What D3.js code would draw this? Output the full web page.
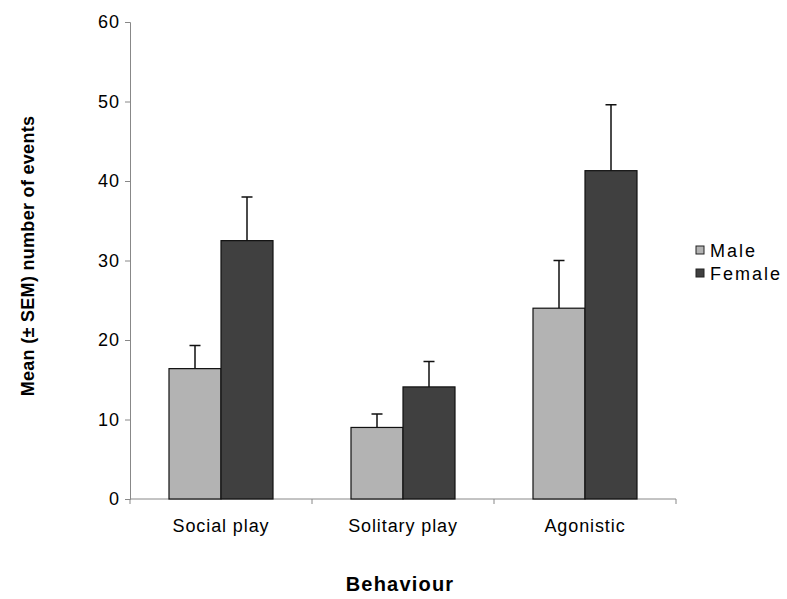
<!DOCTYPE html>
<html>
<head>
<meta charset="utf-8">
<script src="https://cdn.jsdelivr.net/npm/d3@7"></script>
<style>
  body { margin: 0; background: #fff; }
  text { font-family: Arial, "Liberation Sans", sans-serif; fill: #000; }
</style>
</head>
<body>
<div id="chart"></div>
<script>
// data
var categories = ['Social play', 'Solitary play', 'Agonistic'];
var series = ['Male', 'Female'];
var maleMeans = [16.4, 9.0, 24.0];
var maleSem = [2.9, 1.7, 6.0];
var femaleMeans = [32.5, 14.1, 41.3];
var femaleSem = [5.5, 3.2, 8.3];
var yTicks = [0, 10, 20, 30, 40, 50, 60];

var colours = { Male: '#b3b3b3', Female: '#404040' };

var width = 787, height = 599;
var plotLeft = 130, plotRight = 676, plotTop = 22, plotBottom = 499;

var svg = d3.select('#chart').append('svg')
  .attr('width', width)
  .attr('height', height);

var x = d3.scaleBand()
  .domain(categories)
  .range([plotLeft, plotRight]);

var xInner = d3.scaleBand()
  .domain(series)
  .range([0, x.bandwidth()])
  .paddingInner(0)
  .paddingOuter(0.75);

var y = d3.scaleLinear()
  .domain([0, 60])
  .range([plotBottom, plotTop]);

// y axis
var yAxis = svg.append('g')
  .attr('transform', 'translate(' + plotLeft + ',0)')
  .call(d3.axisLeft(y).tickValues(yTicks).tickSize(5).tickPadding(5));
yAxis.selectAll('.domain, line').attr('stroke', '#888');
yAxis.selectAll('text')
  .attr('font-size', '18px')
  .style('letter-spacing', '1px');

// x axis, ticks sit between categories
var xAxis = svg.append('g')
  .attr('transform', 'translate(0,' + plotBottom + ')');
xAxis.append('line')
  .attr('x1', plotLeft).attr('x2', plotRight)
  .attr('stroke', '#888');
var bounds = categories.map(function (c) { return x(c); }).concat([plotRight]);
xAxis.selectAll('.xtick')
  .data(bounds)
  .enter().append('line')
  .attr('class', 'xtick')
  .attr('x1', function (d) { return d; })
  .attr('x2', function (d) { return d; })
  .attr('y1', 0).attr('y2', 5)
  .attr('stroke', '#888');
xAxis.selectAll('.xlabel')
  .data(categories)
  .enter().append('text')
  .attr('class', 'xlabel')
  .attr('x', function (d) { return x(d) + x.bandwidth() / 2; })
  .attr('y', 33)
  .attr('text-anchor', 'middle')
  .attr('font-size', '18px')
  .style('letter-spacing', '0.9px')
  .text(function (d) { return d; });

// bars
var rows = [];
categories.forEach(function (c, i) {
  rows.push({ cat: c, s: 'Male', v: maleMeans[i], e: maleSem[i] });
  rows.push({ cat: c, s: 'Female', v: femaleMeans[i], e: femaleSem[i] });
});

var g = svg.append('g');

g.selectAll('.err')
  .data(rows)
  .enter().append('path')
  .attr('class', 'err')
  .attr('fill', 'none')
  .attr('stroke', '#111')
  .attr('stroke-width', 1.5)
  .attr('d', function (d) {
    var cx = x(d.cat) + xInner(d.s) + xInner.bandwidth() / 2;
    var t = y(d.v + d.e);
    return 'M' + cx + ',' + y(d.v) + 'V' + t + 'M' + (cx - 5.5) + ',' + t + 'H' + (cx + 5.5);
  });

g.selectAll('.bar')
  .data(rows)
  .enter().append('rect')
  .attr('class', 'bar')
  .attr('x', function (d) { return x(d.cat) + xInner(d.s); })
  .attr('width', xInner.bandwidth())
  .attr('y', function (d) { return y(d.v); })
  .attr('height', function (d) { return plotBottom - y(d.v); })
  .attr('fill', function (d) { return colours[d.s]; })
  .attr('stroke', '#111')
  .attr('stroke-width', 1.2);

// legend
var legend = svg.append('g')
  .attr('transform', 'translate(696,250)');
var item = legend.selectAll('.item')
  .data(series)
  .enter().append('g')
  .attr('class', 'item')
  .attr('transform', function (d, i) { return 'translate(0,' + i * 23 + ')'; });
item.append('rect')
  .attr('x', 0).attr('y', -4)
  .attr('width', 8).attr('height', 8)
  .attr('fill', function (d) { return colours[d]; })
  .attr('stroke', '#222');
item.append('text')
  .attr('x', 14)
  .attr('y', 6.5)
  .attr('font-size', '18px')
  .style('letter-spacing', '2px')
  .text(function (d) { return d; });

// axis titles
svg.append('text')
  .attr('x', 400)
  .attr('y', 591)
  .attr('text-anchor', 'middle')
  .attr('font-weight', 'bold')
  .attr('font-size', '20px')
  .style('letter-spacing', '1.2px')
  .text('Behaviour');

svg.append('text')
  .attr('transform', 'translate(34,' + 256 + ') rotate(-90)')
  .attr('text-anchor', 'middle')
  .attr('font-weight', 'bold')
  .attr('font-size', '18px')
  .style('letter-spacing', '0.3px')
  .text('Mean (± SEM) number of events');
</script>
</body>
</html>
